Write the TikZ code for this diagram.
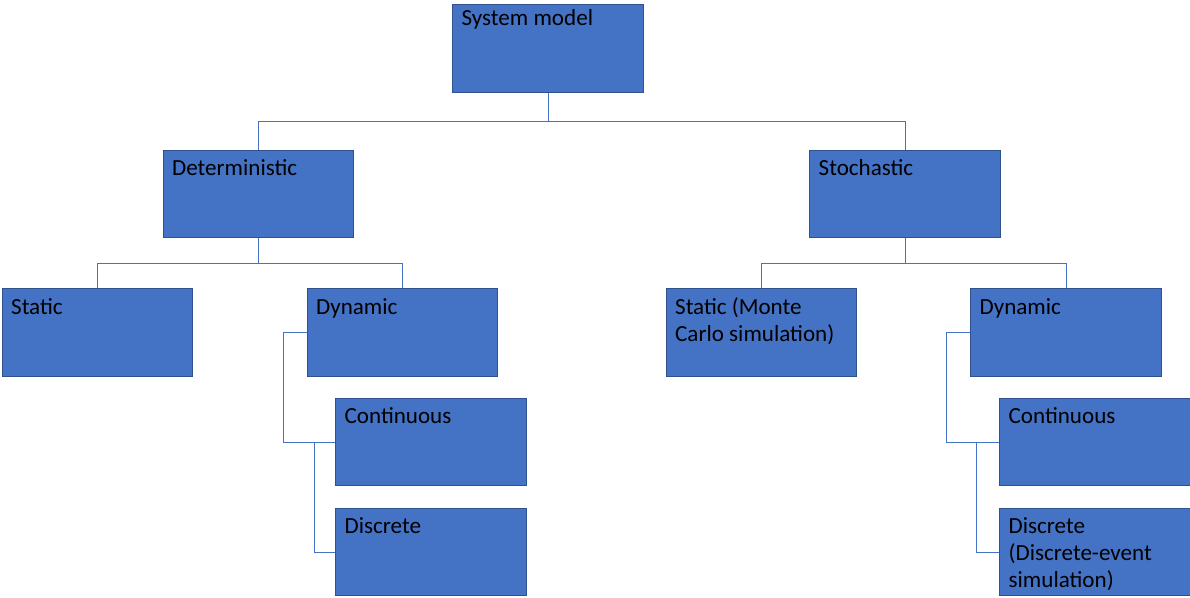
\documentclass[tikz,border=0pt]{standalone}
\usepackage{fontspec}
\setmainfont{Carlito}
\usepackage{tikz}
\usetikzlibrary{positioning}
\definecolor{boxfill}{HTML}{4472C4}
\definecolor{boxline}{HTML}{2F528F}
\definecolor{linkcol}{HTML}{4472C4}

\begin{document}
\begin{tikzpicture}[
    x=0.75pt, y=-0.75pt,
    lbl/.style={anchor=north west, inner sep=0pt, align=left, font=\fontsize{17.3}{20.3}\selectfont, xshift=6.8pt, yshift=-5pt},
    boxbase/.style={draw=boxline, line width=0.6pt, fill=boxfill, rectangle, minimum width=142.9pt, minimum height=65.6pt, inner sep=0pt},
    box/.style={boxbase, label={[lbl]north west:\strut #1}},
    topbox/.style={boxbase, label={[lbl, yshift=3.6pt]north west:\strut #1}},
    link/.style={draw=linkcol, line width=0.75pt}
]
\useasboundingbox (0,0) rectangle (1190,597);

% top level
\node[topbox={System model}] (sys) at (548,48.5) {};
\node[box={Deterministic}] (det) at (258.5,194) {};
\node[box={Stochastic}] (sto) at (905,194) {};

% deterministic branch
\node[box={Static}] (dstat) at (97.5,332.5) {};
\node[box={Dynamic}] (ddyn) at (402.5,332.5) {};
\node[box={Continuous}] (dcont) at (431,442) {};
\node[box={Discrete}] (ddisc) at (431,552) {};

% stochastic branch
\node[box={Static (Monte\\Carlo simulation)}] (sstat) at (761.5,332.5) {};
\node[box={Dynamic}] (sdyn) at (1066,332.5) {};
\node[box={Continuous}] (scont) at (1095,442) {};
\node[box={Discrete\\(Discrete-event\\simulation)}] (sdisc) at (1095,552) {};

\coordinate (dsplit) at (314,442);
\coordinate (ssplit) at (976,442);

\draw[link] (sys.south) -- ++(0,29) -| (det.north);
\draw[link] (sys.south) -- ++(0,29) -| (sto.north);
\draw[link] (det.south) -- ++(0,25) -| (dstat.north);
\draw[link] (det.south) -- ++(0,25) -| (ddyn.north);
\draw[link] (sto.south) -- ++(0,25) -| (sstat.north);
\draw[link] (sto.south) -- ++(0,25) -| (sdyn.north);
\draw[link] (ddyn.west) -- ++(-23,0) |- (dcont.west);
\draw[link] (dsplit) |- (ddisc.west);
\draw[link] (sdyn.west) -- ++(-24,0) |- (scont.west);
\draw[link] (ssplit) |- (sdisc.west);
\end{tikzpicture}
\end{document}
